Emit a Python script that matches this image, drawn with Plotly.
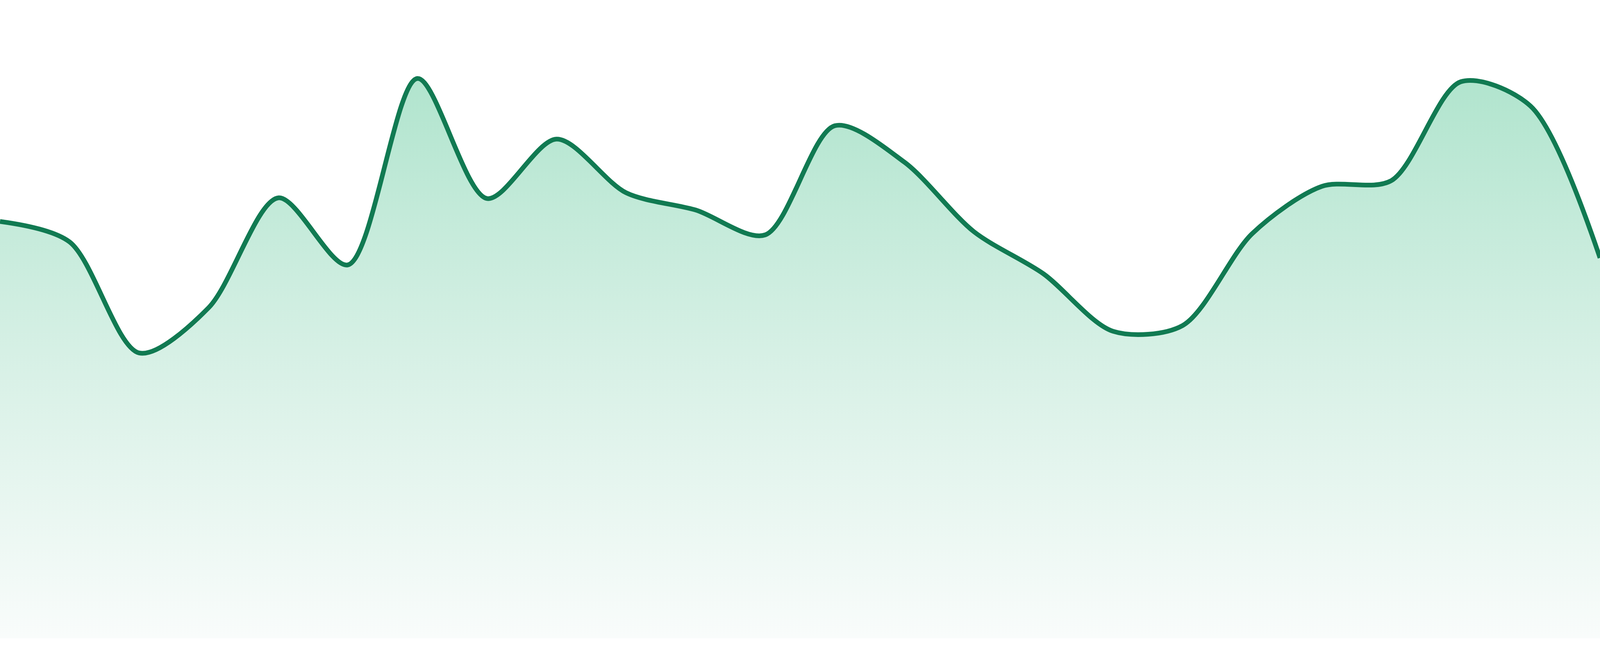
import plotly.graph_objects as go

# --- DATA ---
HOURS = list(range(24))
VALUES = [65.3, 62.1, 44.7, 51.8, 69.0, 58.5, 87.7, 68.9, 78.2, 69.8, 67.1, 63.2,
          80.3, 74.6, 63.7, 57.1, 48.1, 49.0, 63.4, 70.8, 71.7, 87.2, 83.4, 59.6]
Y_RANGE = [0, 100]

# --- STYLE ---
LINE_COLOR = "#117a52"
FILL_TOP = "rgb(166,225,199)"
FILL_MID = "rgb(214,240,229)"
FILL_BOTTOM = "rgb(249,252,251)"

fig = go.Figure()

fig.add_trace(go.Scatter(
    x=HOURS, y=VALUES,
    mode="lines",
    line=dict(color=LINE_COLOR, width=12, shape="spline", smoothing=0.85),
    fill="tozeroy",
    fillgradient=dict(
        type="vertical",
        colorscale=[[0, FILL_BOTTOM], [0.45, FILL_MID], [1, FILL_TOP]],
        start=Y_RANGE[0], stop=Y_RANGE[1],
    ),
    hoverinfo="skip",
    showlegend=False,
))

# plot area spans the full width; a thin white strip is left under the fill
fig.update_layout(
    autosize=True,
    margin=dict(l=0, r=0, t=0, b=0),
    paper_bgcolor="white",
    plot_bgcolor="white",
    xaxis=dict(range=[HOURS[0], HOURS[-1]], domain=[0, 1], visible=False, fixedrange=True),
    yaxis=dict(range=Y_RANGE, domain=[0.027, 1], visible=False, fixedrange=True),
)

# let the plot fill the browser window edge to edge
fit_window = (
    "document.body.style.margin='0';"
    "document.body.style.overflow='hidden';"
    "Plotly.Plots.resize(document.getElementById('{plot_id}'));"
)

fig.write_html(
    "out.html",
    default_width="100vw",
    default_height="100vh",
    config={"responsive": True, "displayModeBar": False},
    post_script=fit_window,
)
